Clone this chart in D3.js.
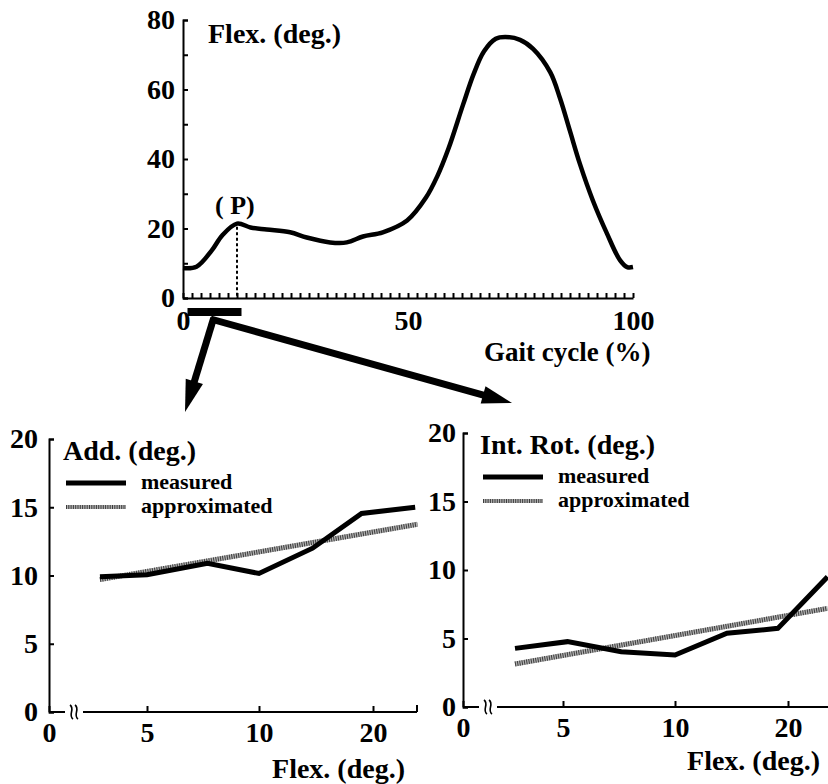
<!DOCTYPE html>
<html>
<head>
<meta charset="utf-8">
<script src="https://cdn.jsdelivr.net/npm/d3@7"></script>
<style>
  body { margin: 0; background: #fff; }
  svg { display: block; }
  text { font-family: "Liberation Serif", "Times New Roman", serif; font-weight: bold; fill: #000; }
</style>
</head>
<body>
<script>
// top panel: hip flexion over the gait cycle
const gaitPct = [0, 3, 6.4, 8.7, 12, 15, 18.6, 23.8, 27.5, 32.7, 36.4, 40, 44.4, 49.8, 54, 56.5,
  59, 62.2, 64.6, 66.9, 69.5, 71.6, 74.9, 77.8, 81.6, 83.8, 86, 88.2, 91.1, 94.2, 97.1, 98.7, 100];
const flexDeg = [8.6, 9, 13.7, 18, 21.4, 20.3, 19.7, 18.9, 17.4, 16, 16, 17.7, 18.9, 22.3, 28.9, 35,
  43, 55.5, 64.5, 71, 74.6, 75.1, 74.3, 71.7, 65, 57.4, 48, 38.6, 28, 18.6, 10.9, 8.9, 8.9];
const peakPct = 12;
const stanceBar = [1, 13];
const topYTicks = [0, 20, 40, 60, 80];
const topXTicks = [0, 50, 100];

// bottom panels: x = flexion (deg.)
const bottomXTicks = [0, 5, 10, 20];
const bottomYTicks = [0, 5, 10, 15, 20];

const addFlex = [2.6, 5.0, 7.7, 10.0, 14.7, 19.0, 23.7];
const addMeasured = [9.9, 10.05, 10.9, 10.15, 12.0, 14.55, 15.0];
const addApproxFlex = [2.6, 23.9];
const addApprox = [9.7, 13.75];

const rotFlex = [2.6, 5.2, 7.6, 10.0, 14.6, 19.1, 23.5];
const rotMeasured = [4.28, 4.77, 4.04, 3.8, 5.38, 5.74, 9.5];
const rotApproxFlex = [2.6, 23.5];
const rotApprox = [3.14, 7.2];

const width = 828, height = 784;

const svg = d3.select("body").append("svg")
    .attr("width", width)
    .attr("height", height);

function styleAxis(g, fontSize) {
    g.selectAll("path, line").attr("stroke", "#000").attr("stroke-width", 2);
    g.selectAll("text")
        .attr("font-size", fontSize)
        .attr("font-family", "Liberation Serif, Times New Roman, serif")
        .attr("font-weight", "bold");
}

// ---------- top chart ----------
const xTop = d3.scaleLinear().domain([0, 100]).range([183, 633]);
const yTop = d3.scaleLinear().domain([0, 80]).range([298, 20]);

svg.append("g")
    .attr("transform", `translate(${xTop(0)},0)`)
    .call(d3.axisLeft(yTop)
        .tickValues(d3.range(0, 81, 10))
        .tickSizeInner(-5).tickSizeOuter(-5).tickPadding(8)
        .tickFormat(d => topYTicks.includes(d) ? d : ""))
    .call(g => styleAxis(g, 28));

svg.append("g")
    .attr("transform", `translate(0,${yTop(0)})`)
    .call(d3.axisBottom(xTop)
        .tickValues(d3.range(0, 101, 2))
        .tickSizeInner(-5).tickSizeOuter(0).tickPadding(12)
        .tickFormat(d => topXTicks.includes(d) ? d : ""))
    .call(g => styleAxis(g, 28));

svg.append("path")
    .datum(gaitPct.map((p, i) => [p, flexDeg[i]]))
    .attr("fill", "none")
    .attr("stroke", "#000")
    .attr("stroke-width", 4.5)
    .attr("stroke-linejoin", "round")
    .attr("d", d3.line()
        .x(d => xTop(d[0]))
        .y(d => yTop(d[1]))
        .curve(d3.curveCatmullRom));

const peakVal = flexDeg[gaitPct.indexOf(peakPct)];
svg.append("line")
    .attr("x1", xTop(peakPct)).attr("x2", xTop(peakPct))
    .attr("y1", yTop(peakVal) + 3).attr("y2", yTop(0))
    .attr("stroke", "#000")
    .attr("stroke-width", 2)
    .attr("stroke-dasharray", "3,2.5");

svg.append("text")
    .attr("x", xTop(peakPct) - 22)
    .attr("y", yTop(peakVal) - 10)
    .attr("font-size", 26)
    .text("( P)");

svg.append("text")
    .attr("x", xTop(0) + 25)
    .attr("y", 43)
    .attr("font-size", 28)
    .text("Flex. (deg.)");

svg.append("text")
    .attr("x", 484)
    .attr("y", 361)
    .attr("font-size", 27)
    .text("Gait cycle (%)");

svg.append("rect")
    .attr("x", xTop(stanceBar[0]))
    .attr("y", yTop(0) + 10)
    .attr("width", xTop(stanceBar[1]) - xTop(stanceBar[0]))
    .attr("height", 8)
    .attr("fill", "#000");

// ---------- arrows ----------
const vertex = [xTop(6.6), yTop(0) + 21];
function arrow(from, tip, w, headLen, headW) {
    const dx = tip[0] - from[0], dy = tip[1] - from[1];
    const len = Math.hypot(dx, dy);
    const ux = dx / len, uy = dy / len;
    const base = [tip[0] - ux * headLen, tip[1] - uy * headLen];
    const nx = -uy, ny = ux;
    svg.append("line")
        .attr("x1", from[0]).attr("y1", from[1])
        .attr("x2", base[0] + ux * 4).attr("y2", base[1] + uy * 4)
        .attr("stroke", "#000").attr("stroke-width", w);
    svg.append("polygon")
        .attr("points", [
            tip,
            [base[0] + nx * headW / 2, base[1] + ny * headW / 2],
            [base[0] - nx * headW / 2, base[1] - ny * headW / 2]
        ].map(p => p.join(",")).join(" "))
        .attr("fill", "#000");
}
arrow([vertex[0] + 1, vertex[1] - 1], [185, 412], 7, 32, 18);
arrow([vertex[0] - 2, vertex[1]], [512, 403], 7, 30, 18);

// ---------- bottom panels ----------
function drawPanel(cfg) {
    const x = d3.scaleLinear().domain(bottomXTicks).range(cfg.xRange);
    const y = d3.scaleLinear().domain([0, 20]).range(cfg.yRange);
    const g = svg.append("g");
    const x0 = x(0), y0 = y(0);

    g.append("g")
        .attr("transform", `translate(${x0},0)`)
        .call(d3.axisLeft(y)
            .tickValues(bottomYTicks)
            .tickSizeInner(-5).tickSizeOuter(-5).tickPadding(cfg.yPad))
        .call(a => styleAxis(a, 28));

    g.append("g")
        .attr("transform", `translate(0,${y0})`)
        .call(d3.axisBottom(x)
            .tickValues(bottomXTicks)
            .tickSizeInner(-6).tickSizeOuter(0).tickPadding(10))
        .call(a => a.select(".domain").remove())
        .call(a => styleAxis(a, 28));

    // x axis with a break near the origin
    g.append("path")
        .attr("d", `M${x0},${y0}H${x0 + 16}M${x0 + 34},${y0}H${cfg.xEnd}` +
            (cfg.endTick ? `M${cfg.xEnd},${y0}V${y0 - 7}` : ""))
        .attr("fill", "none")
        .attr("stroke", "#000")
        .attr("stroke-width", 2);

    const bx = x0 + 25;
    const brk = d3.path();
    [-2.5, 2.5].forEach(o => {
        brk.moveTo(bx + o - 1.5, y0 - 7);
        brk.bezierCurveTo(bx + o + 4, y0 - 3, bx + o - 4, y0 + 3, bx + o + 1.5, y0 + 7);
    });
    g.append("path")
        .attr("d", brk.toString())
        .attr("fill", "none")
        .attr("stroke", "#000")
        .attr("stroke-width", 1.6);

    const line = d3.line().x(d => x(d[0])).y(d => y(d[1]));
    const approxData = cfg.approxFlex.map((f, i) => [f, cfg.approx[i]]);

    g.append("path").datum(approxData)
        .attr("d", line).attr("fill", "none")
        .attr("stroke", "#b0b0b0").attr("stroke-width", 5);
    g.append("path").datum(approxData)
        .attr("d", line).attr("fill", "none")
        .attr("stroke", "#3c3c3c").attr("stroke-width", 5)
        .attr("stroke-dasharray", "1,1.3");

    g.append("path")
        .datum(cfg.flex.map((f, i) => [f, cfg.measured[i]]))
        .attr("d", line)
        .attr("fill", "none")
        .attr("stroke", "#000")
        .attr("stroke-width", 5)
        .attr("stroke-linejoin", "miter");

    // title + legend
    const yt = y(20);
    g.append("text")
        .attr("x", x0 + cfg.titleDx).attr("y", yt + 21)
        .attr("font-size", 28)
        .text(cfg.title);

    g.append("line")
        .attr("x1", x0 + cfg.titleDx + 3).attr("x2", x0 + cfg.titleDx + 63)
        .attr("y1", yt + 44).attr("y2", yt + 44)
        .attr("stroke", "#000").attr("stroke-width", 5);
    g.append("line")
        .attr("x1", x0 + cfg.titleDx + 3).attr("x2", x0 + cfg.titleDx + 63)
        .attr("y1", yt + 68).attr("y2", yt + 68)
        .attr("stroke", "#b0b0b0").attr("stroke-width", 4);
    g.append("line")
        .attr("x1", x0 + cfg.titleDx + 3).attr("x2", x0 + cfg.titleDx + 63)
        .attr("y1", yt + 68).attr("y2", yt + 68)
        .attr("stroke", "#3c3c3c").attr("stroke-width", 4)
        .attr("stroke-dasharray", "1,1.3");

    g.append("text")
        .attr("x", x0 + cfg.titleDx + 78).attr("y", yt + 50)
        .attr("font-size", 22)
        .text("measured");
    g.append("text")
        .attr("x", x0 + cfg.titleDx + 78).attr("y", yt + 74)
        .attr("font-size", 22)
        .text("approximated");

    g.append("text")
        .attr("x", cfg.flexLabelRight).attr("y", y0 + cfg.flexLabelDy)
        .attr("text-anchor", "end")
        .attr("font-size", 28)
        .text("Flex. (deg.)");
}

drawPanel({
    xRange: [49, 147, 259, 373], yRange: [712, 439], xEnd: 417, endTick: true, yPad: 11,
    flex: addFlex, measured: addMeasured, approxFlex: addApproxFlex, approx: addApprox,
    title: "Add. (deg.)", titleDx: 14, flexLabelRight: 405, flexLabelDy: 66
});

drawPanel({
    xRange: [463, 563, 675, 788], yRange: [707, 433], xEnd: 840, endTick: false, yPad: 7,
    flex: rotFlex, measured: rotMeasured, approxFlex: rotApproxFlex, approx: rotApprox,
    title: "Int. Rot. (deg.)", titleDx: 17, flexLabelRight: 820, flexLabelDy: 63
});
</script>
</body>
</html>
